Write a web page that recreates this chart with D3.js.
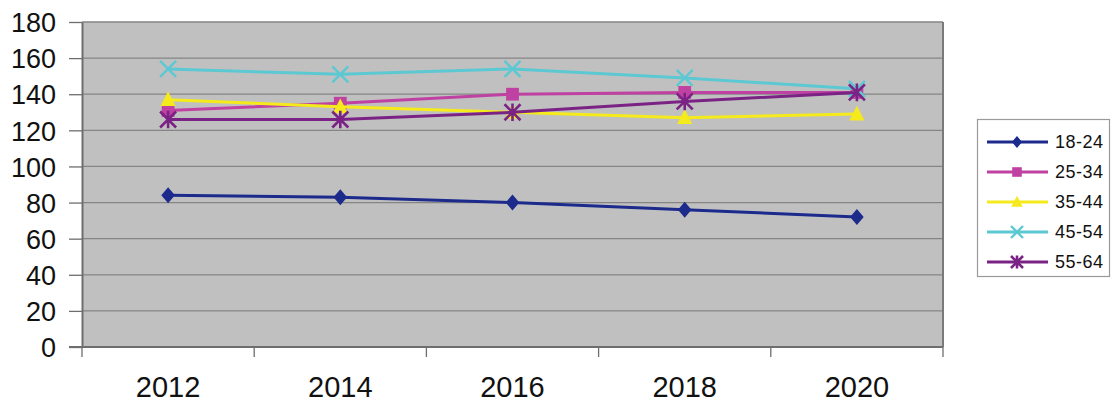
<!DOCTYPE html>
<html>
<head>
<meta charset="utf-8">
<script src="https://cdn.jsdelivr.net/npm/d3@7/dist/d3.min.js"></script>
<style>
  html, body { margin: 0; padding: 0; background: #ffffff; }
  svg { display: block; font-family: "Liberation Sans", Arial, sans-serif; }
</style>
</head>
<body>
<svg id="chart" width="1113" height="405"></svg>
<script>
const years = ["2012", "2014", "2016", "2018", "2020"];
const yTicks = [0, 20, 40, 60, 80, 100, 120, 140, 160, 180];
const seriesNames = ["18-24", "25-34", "35-44", "45-54", "55-64"];
const s1824 = [84, 83, 80, 76, 72];
const s2534 = [131, 135, 140, 141, 141];
const s3544 = [137, 133, 130, 127, 129];
const s4554 = [154, 151, 154, 149, 143];
const s5564 = [126, 126, 130, 136, 141];

const seriesValues = [s1824, s2534, s3544, s4554, s5564];
const colors = ["#1c2a8c", "#bf42a2", "#f4ea1c", "#5cc8d2", "#7a2385"];
const markers = ["diamond", "square", "triangle", "x", "star"];

const svg = d3.select("#chart");
const pLeft = 82, pRight = 943, pTop = 22, pBottom = 347;

const x = d3.scaleBand().domain(years).range([pLeft, pRight]).padding(0);
const y = d3.scaleLinear().domain([0, 180]).range([pBottom, pTop]);
const cx = d => x(d) + x.bandwidth() / 2;

// plot background
svg.append("rect")
  .attr("x", pLeft).attr("y", pTop)
  .attr("width", pRight - pLeft).attr("height", pBottom - pTop)
  .attr("fill", "#c0c0c0");

// gridlines
svg.append("g").selectAll("line").data(yTicks.filter(t => t > 0)).join("line")
  .attr("x1", pLeft).attr("x2", pRight)
  .attr("y1", d => y(d)).attr("y2", d => y(d))
  .attr("stroke", "#858585").attr("stroke-width", 1.3);

// plot border right
svg.append("line").attr("x1", pRight).attr("x2", pRight).attr("y1", pTop).attr("y2", pBottom)
  .attr("stroke", "#7a7a7a").attr("stroke-width", 2);

// y axis
const yAxis = svg.append("g").attr("transform", `translate(${pLeft},0)`)
  .call(d3.axisLeft(y).tickValues(yTicks).tickSize(13).tickPadding(13).tickSizeOuter(0));
yAxis.select(".domain").attr("stroke", "#6e6e6e").attr("stroke-width", 2);
yAxis.selectAll(".tick line").attr("stroke", "#6e6e6e").attr("stroke-width", 1.3);
yAxis.selectAll(".tick text").attr("font-size", 27).attr("fill", "#111")
  .attr("font-family", "'Liberation Sans', Arial, sans-serif").attr("dy", "0.36em");

// x axis
const xAxis = svg.append("g").attr("transform", `translate(0,${pBottom})`);
xAxis.append("line").attr("x1", pLeft - 13).attr("x2", pRight).attr("y1", 0).attr("y2", 0)
  .attr("stroke", "#6e6e6e").attr("stroke-width", 2);
const bounds = years.map(d => x(d)).concat([x.range()[1]]);
xAxis.selectAll("line.tk").data(bounds).join("line").attr("class", "tk")
  .attr("x1", d => d).attr("x2", d => d).attr("y1", 0).attr("y2", 10)
  .attr("stroke", "#6e6e6e").attr("stroke-width", 1.3);
xAxis.selectAll("text").data(years).join("text")
  .attr("x", d => cx(d)).attr("y", 50)
  .attr("text-anchor", "middle").attr("font-size", 29).attr("fill", "#111")
  .text(d => d);

// marker drawing
function drawMarker(g, type, color, size) {
  const s = size;
  if (type === "diamond") {
    g.append("path").attr("d", `M0,${-s}L${s*0.85},0L0,${s}L${-s*0.85},0Z`).attr("fill", color);
  } else if (type === "square") {
    g.append("rect").attr("x", -s*0.8).attr("y", -s*0.8).attr("width", s*1.6).attr("height", s*1.6).attr("fill", color);
  } else if (type === "triangle") {
    g.append("path").attr("d", `M0,${-s*1.05}L${s*0.95},${s*0.8}L${-s*0.95},${s*0.8}Z`).attr("fill", color);
  } else if (type === "x") {
    g.append("path").attr("d", `M${-s},${-s}L${s},${s}M${-s},${s}L${s},${-s}`)
      .attr("stroke", color).attr("stroke-width", 2.4).attr("fill", "none");
  } else if (type === "star") {
    g.append("path").attr("d", `M${-s},${-s}L${s},${s}M${-s},${s}L${s},${-s}M0,${-s*1.1}L0,${s*1.1}`)
      .attr("stroke", color).attr("stroke-width", 2.6).attr("fill", "none");
  }
}

const line = d3.line().x((d, i) => cx(years[i])).y(d => y(d));

seriesValues.forEach((vals, si) => {
  const g = svg.append("g");
  g.append("path").datum(vals).attr("d", line)
    .attr("fill", "none").attr("stroke", colors[si]).attr("stroke-width", 3);
  vals.forEach((v, i) => {
    const mg = g.append("g").attr("transform", `translate(${cx(years[i])},${y(v)})`);
    drawMarker(mg, markers[si], colors[si], 8);
  });
});

// legend
const lg = svg.append("g");
lg.append("rect").attr("x", 977.5).attr("y", 119.5).attr("width", 132).attr("height", 157)
  .attr("fill", "#ffffff").attr("stroke", "#9a9a9a").attr("stroke-width", 1.2);
seriesNames.forEach((name, si) => {
  const ly = 142 + si * 30;
  const it = lg.append("g");
  it.append("line").attr("x1", 987).attr("x2", 1048).attr("y1", ly).attr("y2", ly)
    .attr("stroke", colors[si]).attr("stroke-width", 3);
  const mg = it.append("g").attr("transform", `translate(1017,${ly})`);
  drawMarker(mg, markers[si], colors[si], 6);
  it.append("text").attr("x", 1055).attr("y", ly).attr("dy", "0.36em")
    .attr("font-size", 18).attr("fill", "#111").attr("letter-spacing", 0.5).text(name);
});
</script>
</body>
</html>
